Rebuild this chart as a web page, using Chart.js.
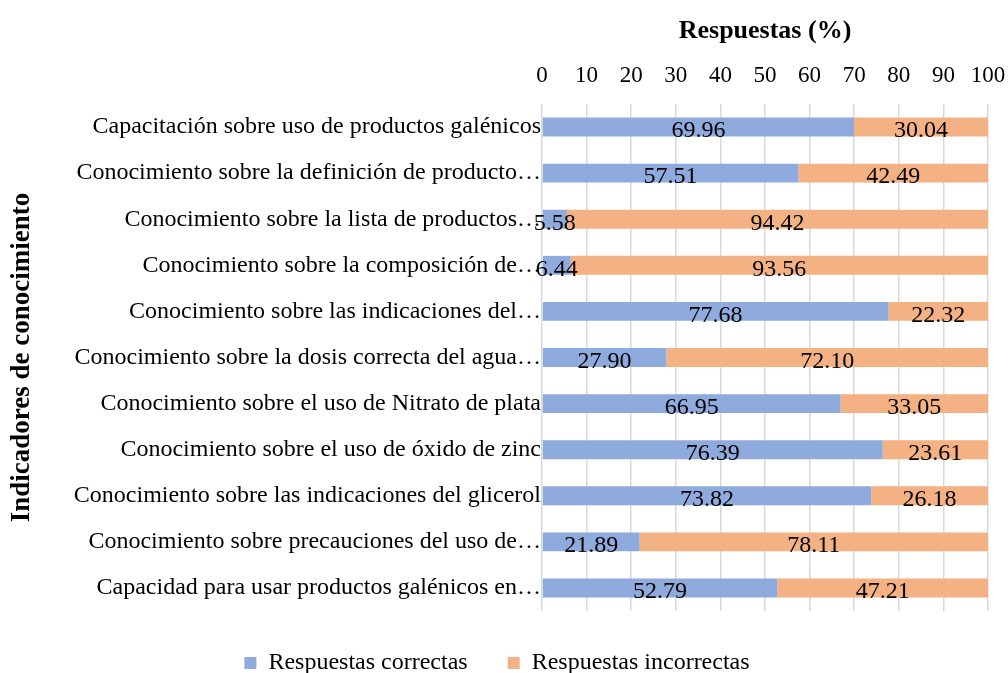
<!DOCTYPE html>
<html>
<head>
<meta charset="utf-8">
<script src="https://cdn.jsdelivr.net/npm/chart.js@4"></script>
<style>
  html, body { margin: 0; padding: 0; background: #fff; }
  #wrap { width: 1008px; height: 673px; }
</style>
</head>
<body>
<div id="wrap"><canvas id="plot"></canvas></div>
<script>
var categories = [
  "Capacitación sobre uso de productos galénicos",
  "Conocimiento sobre la definición de producto…",
  "Conocimiento sobre la lista de productos…",
  "Conocimiento sobre la composición de…",
  "Conocimiento sobre las indicaciones del…",
  "Conocimiento sobre la dosis correcta del agua…",
  "Conocimiento sobre el uso de Nitrato de plata",
  "Conocimiento sobre el uso de óxido de zinc",
  "Conocimiento sobre las indicaciones del glicerol",
  "Conocimiento sobre precauciones del uso de…",
  "Capacidad para usar productos galénicos en…"
];
var correctas = [69.96, 57.51, 5.58, 6.44, 77.68, 27.90, 66.95, 76.39, 73.82, 21.89, 52.79];
var incorrectas = [30.04, 42.49, 94.42, 93.56, 22.32, 72.10, 33.05, 23.61, 26.18, 78.11, 47.21];
var seriesNames = ["Respuestas correctas", "Respuestas incorrectas"];

var FONT = "'Liberation Serif', 'Times New Roman', serif";

// draws the value in the middle of each bar segment
var barLabels = {
  id: 'barLabels',
  afterDatasetsDraw(chart) {
    var ctx = chart.ctx;
    ctx.save();
    ctx.font = "24px " + FONT;
    ctx.fillStyle = "#000";
    ctx.textAlign = "center";
    ctx.textBaseline = "middle";
    chart.data.datasets.forEach(function (ds, i) {
      var meta = chart.getDatasetMeta(i);
      meta.data.forEach(function (el, j) {
        var cx = (el.x + el.base) / 2;
        ctx.fillText(ds.data[j].toFixed(2), cx, el.y + 4);
      });
    });
    ctx.restore();
  }
};

var config = {
  type: 'bar',
  data: {
    labels: categories,
    datasets: [
      { label: seriesNames[0], data: correctas, backgroundColor: '#8FAADC', borderWidth: 0 },
      { label: seriesNames[1], data: incorrectas, backgroundColor: '#F4B183', borderWidth: 0 }
    ]
  },
  options: {
    indexAxis: 'y',
    responsive: true,
    maintainAspectRatio: false,
    animation: false,
    layout: { padding: { left: 6, right: 20, top: 16, bottom: -12 } },
    datasets: { bar: { barPercentage: 0.41, categoryPercentage: 1.0 } },
    plugins: {
      legend: {
        position: 'bottom',
        labels: {
          boxWidth: 12, boxHeight: 12, padding: 40,
          color: '#000',
          font: { family: FONT, size: 24 }
        }
      },
      tooltip: { enabled: false }
    },
    scales: {
      x: {
        position: 'top',
        stacked: true,
        min: 0, max: 100,
        ticks: { stepSize: 10, color: '#000', font: { family: FONT, size: 23 }, padding: 14 },
        grid: { color: '#D9D9D9', lineWidth: 1.5, drawTicks: false },
        border: { display: false },
        title: {
          display: true, text: 'Respuestas (%)', color: '#000',
          font: { family: FONT, size: 26, weight: 'bold' },
          padding: { top: 0, bottom: 14 }
        },
        afterFit(scale) {
          scale.height = 88;
          // let the "100" label run past the plot edge like the original
          scale.paddingRight = 0;
        }
      },
      y: {
        stacked: true,
        ticks: { color: '#000', font: { family: FONT, size: 24 }, padding: 1 },
        grid: { display: false, drawTicks: false },
        border: { display: false },
        title: {
          display: true, text: 'Indicadores de conocimiento', color: '#000',
          font: { family: FONT, size: 27, weight: 'bold' },
          padding: 0
        },
        afterFit(scale) { scale.width = 536; }
      }
    }
  },
  plugins: [barLabels]
};

var chart = new Chart(document.getElementById('plot').getContext('2d'), config);
</script>
</body>
</html>
